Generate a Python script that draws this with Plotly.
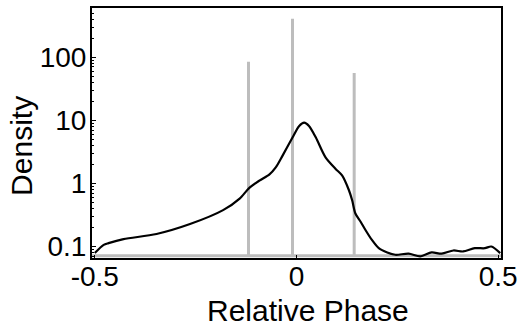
import plotly.graph_objects as go

# Smoothed density of relative phase (black curve)
phase = [-0.5, -0.478, -0.466, -0.429, -0.347, -0.264, -0.182, -0.141, -0.117, -0.092,
         -0.067, -0.051, -0.0345, -0.0099, 0.0067, 0.019, 0.031, 0.048, 0.072, 0.097,
         0.113, 0.130, 0.138, 0.146, 0.159, 0.171, 0.187, 0.204, 0.225, 0.245,
         0.278, 0.307, 0.335, 0.36, 0.389, 0.413, 0.442, 0.467, 0.483, 0.505]
density = [0.0787, 0.106, 0.113, 0.131, 0.158, 0.227, 0.377, 0.575, 0.85, 1.11,
           1.39, 1.81, 2.76, 5.33, 8.15, 9.18, 8.15, 5.33, 2.59, 1.70,
           1.34, 0.78, 0.54, 0.334, 0.247, 0.183, 0.127, 0.094, 0.0805, 0.074,
           0.077, 0.0697, 0.0805, 0.077, 0.0865, 0.0835, 0.094, 0.094, 0.1, 0.0787]

# Reference density (grey): three sharp spikes on a flat floor
spike_phase = [-0.119, -0.0099, 0.143]
spike_density = [85, 407, 56]
floor_density = 0.0715
phase_min, phase_max = -0.507, 0.507

x_ticks = [-0.5, 0, 0.5]
x_ticktext = ["-0.5", "0", "0.5"]
y_ticks = [0.1, 1, 10, 100]
y_ticktext = ["0.1", "1", "10", "100"]
y_minor = [m * 10 ** e for e in range(-2, 3) for m in range(2, 10)]

# build grey path from the spike values
gx, gy = [phase_min], [floor_density]
for p, d in zip(spike_phase, spike_density):
    gx += [p, p, p]
    gy += [floor_density, d, floor_density]
gx.append(phase_max)
gy.append(floor_density)

fig = go.Figure()
fig.add_trace(go.Scatter(x=gx, y=gy, mode="lines",
                         line=dict(color="#bdbdbd", width=3), hoverinfo="skip"))
fig.add_trace(go.Scatter(x=phase, y=density, mode="lines",
                         line=dict(color="black", width=2.2, shape="spline", smoothing=0.8)))

font = "Liberation Sans, Arial, Helvetica, sans-serif"
fig.update_layout(
    width=524, height=330,
    margin=dict(l=92, r=21, t=6, b=72),
    paper_bgcolor="white", plot_bgcolor="white",
    showlegend=False,
    font=dict(family=font, size=28, color="black"),
    xaxis=dict(range=[phase_min, phase_max], tickvals=x_ticks, ticktext=x_ticktext,
               ticks="inside", ticklen=3, tickwidth=1, tickcolor="black",
               ticklabelstandoff=-8,
               showline=True, linecolor="black", linewidth=2, mirror=True,
               showgrid=False, zeroline=False, tickfont=dict(size=28)),
    yaxis=dict(type="log", range=[-1.182, 2.78], tickvals=y_ticks, ticktext=y_ticktext,
               ticks="inside", ticklen=4, tickwidth=1, tickcolor="black",
               ticklabelstandoff=-2,
               minor=dict(tickvals=y_minor, ticks="inside", ticklen=2, tickwidth=1,
                          tickcolor="black", showgrid=False),
               showline=True, linecolor="black", linewidth=2, mirror=True,
               showgrid=False, zeroline=False, tickfont=dict(size=28)),
    annotations=[
        dict(text="Relative Phase", xref="paper", yref="paper", x=(309 - 92) / 411, y=0,
             yshift=-52, xanchor="center", yanchor="middle", showarrow=False,
             font=dict(size=30, family=font)),
        dict(text="Density", xref="paper", yref="paper", x=0, y=(258 - 145) / 252,
             xshift=-70, textangle=-90, xanchor="center", yanchor="middle",
             showarrow=False, font=dict(size=30, family=font)),
    ],
)
fig.write_html("out.html")
